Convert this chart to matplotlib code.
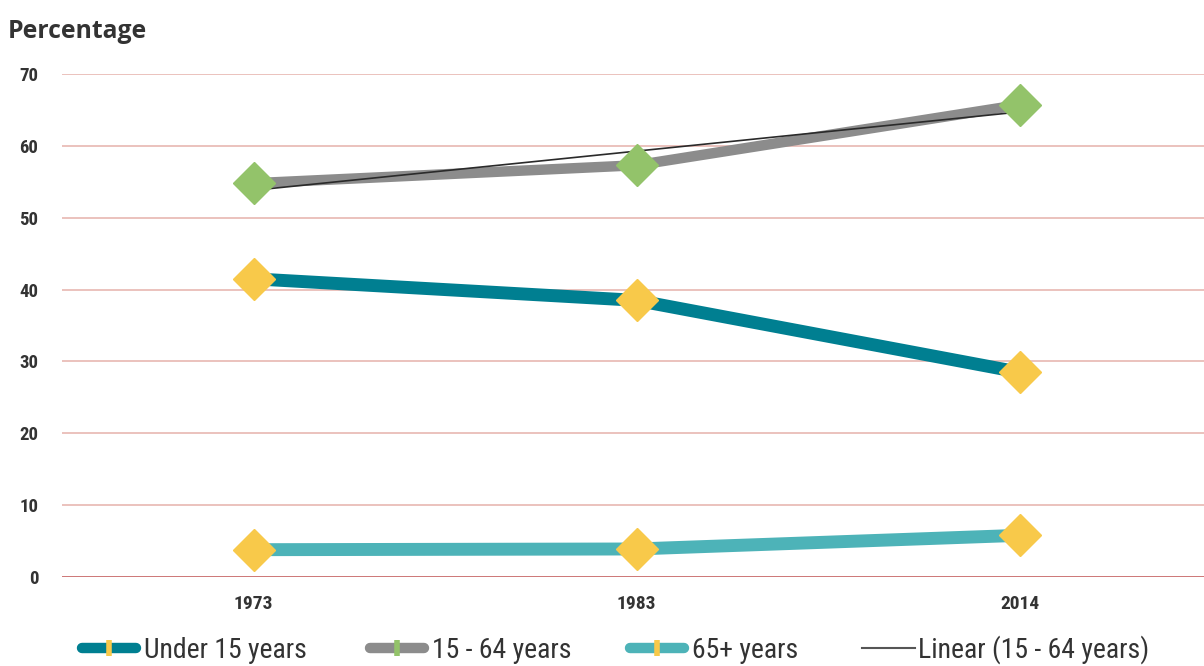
import numpy as np
import matplotlib
matplotlib.use("Agg")
import matplotlib.pyplot as plt
from matplotlib.lines import Line2D
from matplotlib import font_manager as fm

years = ["1973", "1983", "2014"]
under15 = [41.5, 38.5, 28.5]
age15_64 = [54.8, 57.3, 65.7]
age65 = [3.8, 3.9, 5.8]
yticks = [0, 10, 20, 30, 40, 50, 60, 70]

names = {f.name for f in fm.fontManager.ttflist}
narrow = "Liberation Sans"
for cand in ["Liberation Sans Narrow", "Roboto Condensed", "DejaVu Sans Condensed", "Open Sans Condensed"]:
    if cand in names:
        narrow = cand
        break

W, H = 1204, 666
fig = plt.figure(figsize=(W / 100, H / 100), dpi=100)
ax = fig.add_axes([62 / W, (H - 577) / H, 1149 / W, 503 / H])
x = np.arange(len(years))

c_u15 = "#007F91"
c_mid = "#8C8C8C"
c_65 = "#4DB3B8"
c_yel = "#F8C94A"
c_grn = "#93C36A"

for v in yticks[1:]:
    ax.axhline(v, color="#E8B8B2", lw=1.2, zorder=0)
ax.axhline(0, color="#C96A6A", lw=2.0, zorder=0)

ax.plot(x, under15, color=c_u15, lw=9.3, solid_capstyle="butt", zorder=2)
ax.plot(x, age65, color=c_65, lw=9.3, solid_capstyle="butt", zorder=2)
ax.plot(x, age15_64, color=c_mid, lw=7.5, solid_capstyle="butt", zorder=2)
coef = np.polyfit(x, age15_64, 1)
ax.plot(x, np.polyval(coef, x), color="#2a2a2a", lw=1.2, zorder=3)

ax.plot(x, under15, ls="none", marker="D", ms=21, color=c_yel, mec=c_yel, zorder=4)
ax.plot(x, age65, ls="none", marker="D", ms=21, color=c_yel, mec=c_yel, zorder=4)
ax.plot(x, age15_64, ls="none", marker="D", ms=21, color=c_grn, mec=c_grn, zorder=4)

ax.set_xlim(-0.5, 2.5)
ax.set_ylim(0, 70)
ax.set_yticks(yticks)
ax.set_yticklabels([str(v) for v in yticks], fontsize=13.5, fontweight="bold",
                   family=[narrow, "DejaVu Sans"], color="#333333")
ax.set_xticks(x)
ax.set_xticklabels(years, fontsize=14, fontweight="bold",
                   family=[narrow, "DejaVu Sans"], color="#333333")
ax.tick_params(length=0)
ax.tick_params(axis="y", pad=17)
ax.tick_params(axis="x", pad=13)
for s in ax.spines.values():
    s.set_visible(False)

fig.text(8 / W, 1 - 32 / H, "Percentage", fontsize=17.8, fontweight="bold",
         family=["Open Sans", "DejaVu Sans"], color="#333333", va="center")

handles = [
    Line2D([], [], color=c_u15, lw=7.5, marker="|", ms=11, mew=4, mec=c_yel, solid_capstyle="round"),
    Line2D([], [], color=c_mid, lw=7.5, marker="|", ms=11, mew=4, mec=c_grn, solid_capstyle="round"),
    Line2D([], [], color=c_65, lw=7.5, marker="|", ms=11, mew=4, mec=c_yel, solid_capstyle="round"),
    Line2D([], [], color="#555555", lw=1.5),
]
labels = ["Under 15 years", "15 - 64 years", "65+ years", "Linear (15 - 64 years)"]
starts = [82, 370, 630, 862]
hlens = [1.95, 1.95, 1.95, 1.9]
pads = [0.3, 0.3, 0.3, 0.12]
for h, lab, sx, hl, pd in zip(handles, labels, starts, hlens, pads):
    fig.legend([h], [lab], loc="center left", bbox_to_anchor=(sx / W, 1 - 650 / H),
               frameon=False, prop={"family": [narrow, "DejaVu Sans"], "size": 20},
               handlelength=hl, handletextpad=pd,
               labelcolor="#333333", borderaxespad=0, borderpad=0)

fig.savefig("out.png", dpi=100)
